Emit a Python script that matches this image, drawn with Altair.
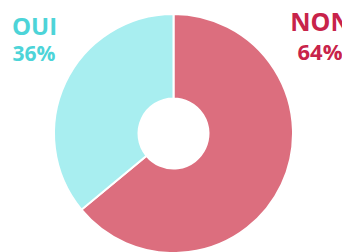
import altair as alt
import pandas as pd

labels = ["NON", "OUI"]
values = [64, 36]
order = [0, 1]
colors = ["#DC6E7E", "#A8EEF0"]

df = pd.DataFrame({"label": labels, "value": values, "order": order})

W, H = 334, 244

pie = alt.Chart(df).mark_arc(innerRadius=35, outerRadius=119.5, stroke="white", strokeWidth=2).encode(
    theta=alt.Theta("value:Q", stack=True),
    order=alt.Order("order:Q"),
    color=alt.Color("label:N", scale=alt.Scale(domain=labels, range=colors), legend=None),
    x=alt.value(165.5),
    y=alt.value(125.5),
)

txt_df = pd.DataFrame({
    "t": ["OUI", "36%", "NON", "64%"],
    "px": [26.5, 26, 312.5, 312],
    "py": [27, 53, 23, 52],
    "c": ["#4DD4D8", "#4DD4D8", "#C8234A", "#C8234A"],
    "s": [24, 21, 25, 22],
})

texts = alt.Chart(txt_df).mark_text(align="center", baseline="alphabetic", font="Open Sans", fontWeight="bold").encode(
    x=alt.X("px:Q", scale=None),
    y=alt.Y("py:Q", scale=None),
    text="t:N",
    color=alt.Color("c:N", scale=None),
    size=alt.Size("s:Q", scale=None),
)

chart = alt.layer(pie, texts).properties(
    width=W, height=H, padding=0, autosize=alt.AutoSizeParams(type="none")
).configure_view(stroke=None)

chart.save("out.html", embed_options={"renderer": "svg", "actions": False})
